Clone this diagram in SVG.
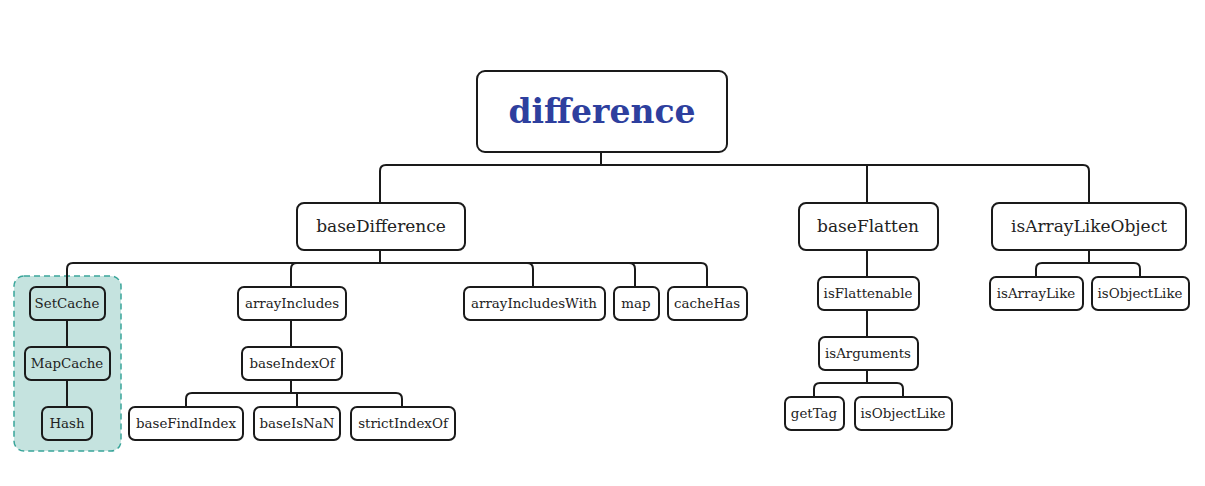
<svg xmlns="http://www.w3.org/2000/svg" width="1205" height="486" viewBox="0 0 1205 486">
<style>
.n rect{fill:#fff;stroke:#1a1a1a;stroke-width:2}
.g rect{fill:#c5e3df}
text{font-family:"DejaVu Serif","Liberation Serif",serif;fill:#222;text-anchor:middle}
.s{font-size:13.4px}
.m{font-size:17px}
.c path{fill:none;stroke:#1a1a1a;stroke-width:2}
</style>
<rect x="14" y="276" width="107" height="175" rx="10" fill="#c5e3df" stroke="#3aa59a" stroke-width="1.5" stroke-dasharray="6 4"/>
<g class="c">
<path d="M601 152V165M380 203V171Q380 165 386 165H1083Q1089 165 1089 171V203M867 165Q867 165 867 171V203"/>
<path d="M380 250V263M67 287V269Q67 263 73 263H701Q707 263 707 269V287M291 287V269Q291 263 297 263M533 287V269Q533 263 527 263M635 287V269Q635 263 629 263"/>
<path d="M67 320V347M67 380V407M291 320V347"/>
<path d="M291 380V393M186 407V399Q186 393 192 393H396Q402 393 402 399V407M297 407V393"/>
<path d="M867 250V277M867 310V337M867 370V383M814 397V389Q814 383 820 383H897Q903 383 903 389V397"/>
<path d="M1089 250V263M1036 277V269Q1036 263 1042 263H1134Q1140 263 1140 269V277"/>
</g>
<g id="difference" class="n"><rect x="477" y="71" width="250" height="81" rx="8"/><text x="602" y="123" style="font-size:33px;font-weight:bold;fill:#2e3f9e">difference</text></g>
<g id="baseDifference" class="n"><rect x="297" y="203" width="168" height="47" rx="7"/><text class="m" x="381" y="232">baseDifference</text></g>
<g id="baseFlatten" class="n"><rect x="799" y="203" width="139" height="47" rx="7"/><text class="m" x="868" y="232">baseFlatten</text></g>
<g id="isArrayLikeObject" class="n"><rect x="992" y="203" width="194" height="47" rx="7"/><text class="m" x="1089" y="232">isArrayLikeObject</text></g>
<g id="SetCache" class="n g"><rect x="30" y="287" width="75" height="33" rx="6"/><text class="s" x="67" y="308">SetCache</text></g>
<g id="MapCache" class="n g"><rect x="25" y="347" width="85" height="33" rx="6"/><text class="s" x="67" y="368">MapCache</text></g>
<g id="Hash" class="n g"><rect x="42" y="407" width="50" height="33" rx="6"/><text class="s" x="67" y="428">Hash</text></g>
<g id="arrayIncludes" class="n"><rect x="238" y="287" width="108" height="33" rx="6"/><text class="s" x="292" y="308">arrayIncludes</text></g>
<g id="baseIndexOf" class="n"><rect x="242" y="347" width="100" height="33" rx="6"/><text class="s" x="292" y="368">baseIndexOf</text></g>
<g id="baseFindIndex" class="n"><rect x="129" y="407" width="114" height="33" rx="6"/><text class="s" x="186" y="428">baseFindIndex</text></g>
<g id="baseIsNaN" class="n"><rect x="254" y="407" width="86" height="33" rx="6"/><text class="s" x="297" y="428">baseIsNaN</text></g>
<g id="strictIndexOf" class="n"><rect x="351" y="407" width="104" height="33" rx="6"/><text class="s" x="403" y="428">strictIndexOf</text></g>
<g id="arrayIncludesWith" class="n"><rect x="464" y="287" width="141" height="33" rx="6"/><text class="s" x="534" y="308">arrayIncludesWith</text></g>
<g id="map" class="n"><rect x="614" y="287" width="45" height="33" rx="6"/><text class="s" x="636" y="308">map</text></g>
<g id="cacheHas" class="n"><rect x="668" y="287" width="79" height="33" rx="6"/><text class="s" x="707" y="308">cacheHas</text></g>
<g id="isFlattenable" class="n"><rect x="818" y="277" width="101" height="33" rx="6"/><text class="s" x="868" y="298">isFlattenable</text></g>
<g id="isArguments" class="n"><rect x="819" y="337" width="99" height="33" rx="6"/><text class="s" x="868" y="358">isArguments</text></g>
<g id="getTag" class="n"><rect x="785" y="397" width="59" height="33" rx="6"/><text class="s" x="814" y="418">getTag</text></g>
<g id="isObjectLike1" class="n"><rect x="855" y="397" width="97" height="33" rx="6"/><text class="s" x="903" y="418">isObjectLike</text></g>
<g id="isArrayLike" class="n"><rect x="990" y="277" width="93" height="33" rx="6"/><text class="s" x="1036" y="298">isArrayLike</text></g>
<g id="isObjectLike2" class="n"><rect x="1092" y="277" width="97" height="33" rx="6"/><text class="s" x="1140" y="298">isObjectLike</text></g>
</svg>
